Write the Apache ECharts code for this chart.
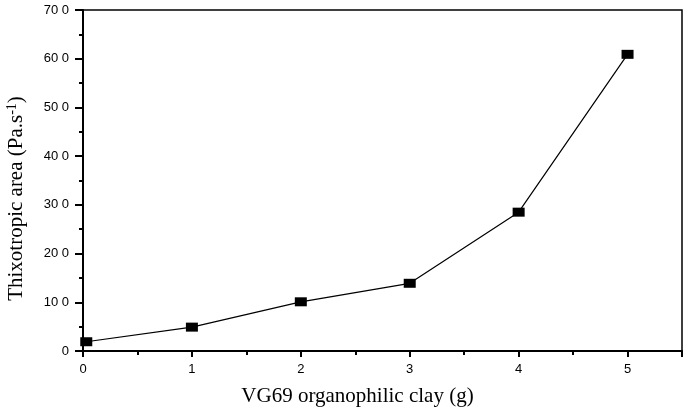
<!DOCTYPE html>
<html>
<head>
<meta charset="utf-8">
<script src="https://cdn.jsdelivr.net/npm/echarts@6/dist/echarts.min.js"></script>
<style>html,body{margin:0;padding:0;background:#fff}#c{width:685px;height:411px}</style>
</head>
<body>
<div id="c"></div>
<script>
var clayG = [0.03, 1, 2, 3, 4, 5];
var thixArea = [19, 49, 101, 139, 285, 609];
var yTicks = [0, 100, 200, 300, 400, 500, 600, 700];

var chart = echarts.init(document.getElementById('c'));
chart.setOption({
  animation: false,
  backgroundColor: '#fff',
  grid: { left: 83, right: 3, top: 10, bottom: 60, containLabel: false, outerBoundsMode: 'none',
          show: true, borderColor: '#000', borderWidth: 1.5 },
  xAxis: {
    type: 'value', min: 0, max: 5.5, interval: 1,
    name: 'VG69 organophilic clay (g)', nameLocation: 'middle', nameGap: 35,
    nameTextStyle: { fontFamily: 'Liberation Serif', fontSize: 21, color: '#000', padding: [0, 50, 0, 0] },
    axisLine: { show: true, onZero: false, lineStyle: { color: '#000', width: 2 } },
    axisTick: { show: true, length: 6, lineStyle: { color: '#000', width: 2 } },
    minorTick: { show: true, splitNumber: 2, length: 4, lineStyle: { color: '#000', width: 2 } },
    axisLabel: { margin: 12, fontFamily: 'Liberation Sans', fontSize: 13, color: '#000',
      formatter: function (v) { return (v % 1 === 0 && v <= 5) ? String(v) : ''; } },
    splitLine: { show: false }
  },
  yAxis: {
    type: 'value', min: 0, max: 700, interval: 100,
    name: '{t|Thixotropic area (Pa.s}{s|-1}{t|)}', nameLocation: 'middle', nameGap: 55,
    nameTextStyle: { fontFamily: 'Liberation Serif', fontSize: 21, color: '#000', padding: [0, 36, 0, 0],
      rich: { t: { fontFamily: 'Liberation Serif', fontSize: 21, color: '#000' },
              s: { fontFamily: 'Liberation Serif', fontSize: 14, color: '#000', verticalAlign: 'top', padding: [0, 0, 9, 0] } } },
    axisLine: { show: true, onZero: false, lineStyle: { color: '#000', width: 2 } },
    axisTick: { show: true, length: 8, lineStyle: { color: '#000', width: 2 } },
    minorTick: { show: true, splitNumber: 2, length: 4, lineStyle: { color: '#000', width: 2 } },
    axisLabel: { margin: 14, fontFamily: 'Liberation Sans', fontSize: 13, color: '#000',
      formatter: function (v) { var s = String(v); return s.length > 1 ? s.slice(0, -1) + ' ' + s.slice(-1) : s; } },
    splitLine: { show: false }
  },
  series: [{
    type: 'line',
    data: clayG.map(function (x, i) { return [x, thixArea[i]]; }),
    symbol: 'rect', symbolSize: [12, 9],
    itemStyle: { color: '#000' },
    lineStyle: { color: '#000', width: 1.2 }
  }]
});
</script>
</body>
</html>
